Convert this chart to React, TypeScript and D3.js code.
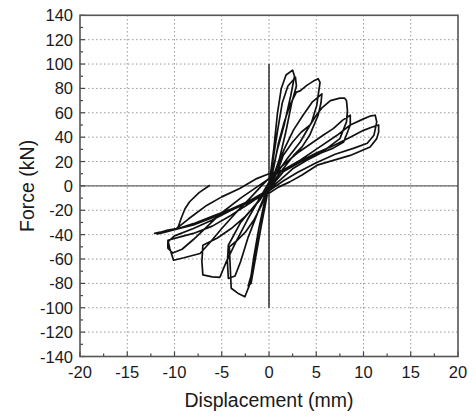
import React, { useEffect, useRef } from "react";
import * as d3 from "d3";

// force-displacement hysteresis, cycle by cycle ([mm, kN])
const cycle1: [number, number][] = [
  [0, 0], [0.5, 30], [0.9, 60], [1.3, 80], [1.8, 91], [2.5, 95], [2.7, 90], [2.3, 74],
  [1.6, 50], [0.9, 30], [0.3, 10], [0, 0], [-0.8, -16], [-1.6, -28], [-2.5, -38], [-3.4, -45],
  [-4.2, -50], [-4.0, -84], [-3.3, -88], [-2.55, -91], [-2.1, -82], [-1.4, -56], [-0.9, -36],
  [-0.4, -16], [0, 0],
];
const cycle2: [number, number][] = [
  [0, 0], [0.4, 20], [0.9, 45], [1.4, 68], [2.0, 82], [2.8, 89], [2.9, 82], [2.4, 68],
  [1.8, 45], [1.1, 22], [0.3, 4], [-0.5, -14], [-1.1, -36], [-1.6, -58], [-1.9, -74],
  [-2.2, -82], [-1.9, -80], [-1.4, -58], [-0.8, -32], [-0.2, -8], [0.5, 15],
];
const cycle3: [number, number][] = [
  [0.5, 15], [1.0, 35], [1.6, 52], [2.2, 66], [2.9, 77], [3.3, 78], [4.0, 82.5], [4.7, 86],
  [5.2, 88], [5.4, 85], [5.05, 66], [4.5, 52], [3.3, 36], [1.9, 22], [0.8, 10], [0, 0],
  [-1, -12], [-2.5, -25], [-4, -35], [-5.5, -43], [-7.0, -48.7], [-7.1, -62], [-7.0, -73],
  [-6.0, -74.6], [-5.2, -75], [-4.5, -62], [-3.5, -46], [-2.3, -28], [-1.2, -13], [0, 3], [0.8, 14],
];
const cycle4: [number, number][] = [
  [0.8, 14], [1.6, 30], [2.6, 46], [3.6, 58], [4.6, 69], [5.6, 75.6], [5.5, 68], [5.2, 58],
  [4.3, 41.5], [3.5, 32], [2.6, 25], [1.5, 14], [0.5, 4], [-0.5, -6], [-1.5, -16], [-3, -30],
  [-4.3, -48.7], [-4.4, -62], [-4.3, -76], [-3.6, -74], [-3.0, -62], [-2.2, -42], [-1.0, -18],
  [0.2, 4], [1, 14],
];
const cycle5: [number, number][] = [
  [1, 14], [1.5, 25], [2.5, 36], [3.4, 44], [4.35, 50], [5, 58], [5.6, 64], [6.5, 70],
  [7.5, 72], [8.0, 72], [8.2, 70], [8.3, 62], [8.2, 52.5], [7.5, 38.8], [6.1, 30.6], [4.6, 25],
  [3.3, 19.7], [1.5, 11.5], [0.5, 2], [0, -3], [-2, -14], [-4, -24], [-6, -33], [-8, -39],
  [-9.5, -42], [-10.7, -44.6], [-10.5, -51.4], [-10.1, -61], [-9, -59], [-7.3, -55.5],
  [-6.2, -46], [-5, -35], [-3.5, -22], [-2, -10], [-0.8, 0], [0.5, 10],
];
const cycle6: [number, number][] = [
  [0.5, 10], [1.5, 17], [3, 27], [4.5, 35], [5.8, 42], [6.8, 47], [7.8, 54], [8.6, 58],
  [8.6, 50], [7.9, 36], [6.8, 31], [5.5, 27], [4, 21], [2.5, 14], [1.2, 5], [0, -3], [-2, -12],
  [-4, -20], [-6, -28], [-8, -35], [-10, -41], [-10.7, -46], [-10.7, -51], [-10.2, -55],
  [-9.2, -52], [-8, -44], [-6.5, -33], [-5, -22], [-3, -10], [-1.5, -2], [0, 6],
];
const cycle7: [number, number][] = [
  [0, 6], [1.5, 13], [3.3, 21], [5.1, 30.6], [7.2, 41.5], [8.6, 50], [10.0, 55], [10.8, 57.5],
  [11.24, 58], [11.4, 52.5], [11.2, 45], [11.1, 41.5], [10.4, 35], [9, 31], [7, 26], [5, 19],
  [3, 11], [1.5, 4], [0, -4], [-2, -12], [-4, -19], [-6, -25], [-8, -31], [-10, -36],
  [-11.3, -38], [-12.1, -39], [-11.5, -38], [-10.8, -36.5], [-9.8, -35], [-8.5, -27],
  [-6.6, -16], [-5, -9], [-3.1, -2.2], [-1.3, 6], [0, 10],
];
const cycle8: [number, number][] = [
  [0, 10], [1.5, 13], [3, 19], [5, 27], [6.8, 33], [8.6, 40], [10, 45.6], [11.0, 48.5],
  [11.6, 50], [11.6, 44], [11.4, 38.8], [10.7, 32], [8.6, 25], [6.8, 21], [5.1, 17], [3.5, 9],
  [2.2, 3.3], [1, -1], [0, -6], [-2, -13], [-4, -20], [-6, -26], [-8, -32], [-10, -36],
  [-11, -38], [-11.8, -39.5], [-10.8, -36.4], [-9.8, -35], [-9.6, -33.6], [-9.3, -26.8],
  [-8.9, -19], [-8.4, -13], [-7.4, -5.5], [-6.26, 0.5],
];
const centreLine: [number, number][] = [[0, 100], [0, -100]];

const xTicks = [-20, -15, -10, -5, 0, 5, 10, 15, 20];
const yTicks = [-140, -120, -100, -80, -60, -40, -20, 0, 20, 40, 60, 80, 100, 120, 140];

const W = 476;
const H = 417;

export default function App() {
  const svgRef = useRef<SVGSVGElement>(null);

  useEffect(() => {
    const svg = d3.select(svgRef.current);
    svg.selectAll("*").remove();

    const x = d3.scaleLinear().domain([-20, 20]).range([80, 458]);
    const y = d3.scaleLinear().domain([-140, 140]).range([356.5, 15.3]);
    const font = "'Liberation Sans', Arial, sans-serif";
    const ink = "#1a1a1a";

    // dotted grid
    const grid = svg.append("g").attr("stroke", "#999").attr("stroke-width", 1).attr("stroke-dasharray", "1.5,2.5");
    xTicks.slice(1, -1).forEach((t) => {
      grid.append("line").attr("x1", x(t)).attr("x2", x(t)).attr("y1", y(-140)).attr("y2", y(140));
    });
    yTicks.slice(1, -1).forEach((t) => {
      grid.append("line").attr("x1", x(-20)).attr("x2", x(20)).attr("y1", y(t)).attr("y2", y(t));
    });

    // zero line
    svg.append("line")
      .attr("x1", x(-20)).attr("x2", x(20)).attr("y1", y(0)).attr("y2", y(0))
      .attr("stroke", "#666").attr("stroke-width", 1.4);

    // minor / major ticks, pointing inward
    const tk = svg.append("g").attr("stroke", "#444").attr("stroke-width", 1.2);
    d3.range(-140, 141, 10).forEach((v) => {
      const len = v % 20 === 0 ? 5 : 3;
      tk.append("line").attr("x1", x(-20)).attr("x2", x(-20) + len).attr("y1", y(v)).attr("y2", y(v));
    });
    d3.range(-20, 20.1, 2.5).forEach((v) => {
      const len = v % 5 === 0 ? 5 : 3;
      tk.append("line").attr("x1", x(v)).attr("x2", x(v)).attr("y1", y(-140)).attr("y2", y(-140) - len);
    });

    // hysteresis curves
    const line = d3.line<[number, number]>().x((d) => x(d[0])).y((d) => y(d[1]));
    const curve = [cycle1, cycle2, cycle3, cycle4, cycle5, cycle6, cycle7, cycle8].flat();
    svg.append("path").attr("d", line(curve)).attr("fill", "none")
      .attr("stroke", "#111").attr("stroke-width", 1.7).attr("stroke-linejoin", "round");
    svg.append("path").attr("d", line(centreLine)).attr("fill", "none")
      .attr("stroke", "#111").attr("stroke-width", 1.3);

    // frame
    svg.append("rect")
      .attr("x", x(-20)).attr("y", y(140)).attr("width", x(20) - x(-20)).attr("height", y(-140) - y(140))
      .attr("fill", "none").attr("stroke", "#555").attr("stroke-width", 1.6);

    // tick labels
    svg.append("g").selectAll("text").data(xTicks).enter().append("text")
      .attr("x", (d) => x(d)).attr("y", 377.5)
      .attr("text-anchor", "middle").attr("font-family", font).attr("font-size", 16.5).attr("fill", ink)
      .text((d) => d);
    svg.append("g").selectAll("text").data(yTicks).enter().append("text")
      .attr("x", 73).attr("y", (d) => y(d) + 6)
      .attr("text-anchor", "end").attr("font-family", font).attr("font-size", 16.5).attr("fill", ink)
      .text((d) => d);

    // axis titles
    svg.append("text")
      .attr("x", x(0)).attr("y", 407).attr("text-anchor", "middle")
      .attr("font-family", font).attr("font-size", 19.5).attr("fill", ink)
      .text("Displacement (mm)");
    svg.append("text")
      .attr("transform", `translate(34, ${y(0)}) rotate(-90)`).attr("text-anchor", "middle")
      .attr("font-family", font).attr("font-size", 19.5).attr("fill", ink)
      .text("Force (kN)");
  }, []);

  return (
    <svg
      ref={svgRef}
      width={W}
      height={H}
      style={{ position: "absolute", left: 0, top: 0, background: "#fff" }}
    />
  );
}
